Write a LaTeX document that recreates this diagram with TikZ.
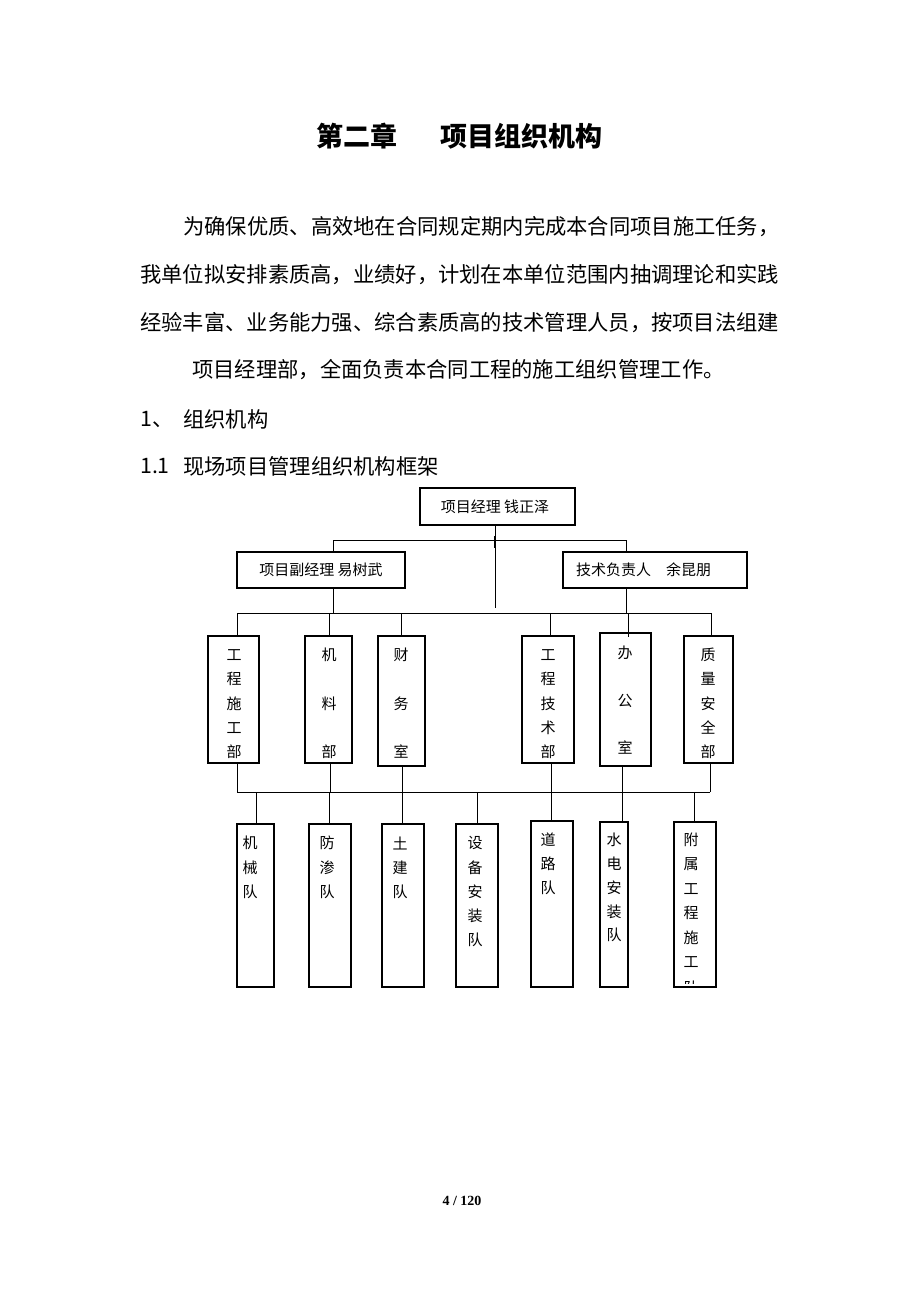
\documentclass[tikz,border=0pt]{standalone}
\usepackage{fontspec}
\newfontfamily\cjk{Noto Sans CJK SC}
\newfontfamily\pagefont{Liberation Serif}
\tikzset{
  bx/.style={draw, line width=1.1pt, inner sep=0pt},
  ln/.style={line width=1pt},
  ch/.style={font=\cjk\fontsize{15}{15}\selectfont, inner sep=0pt},
  lbl/.style={font=\cjk\fontsize{15}{15}\selectfont, inner sep=0pt},
  body/.style={font=\cjk\fontsize{21.3}{21.3}\selectfont, inner sep=0pt, anchor=west},
  ttl/.style={font=\cjk\bfseries\fontsize{27}{27}\selectfont, inner sep=0pt, anchor=west},
}
\newcommand\boxnode[5]{\node[bx, minimum width={#3-#2}, minimum height={#5-#4}] (#1) at ({(#2+#3)/2},{(#4+#5)/2}) {};}
\newcommand\vcol[5]{\foreach \c [count=\i from 0] in {#5} {\node[ch] (#1-\i) at (#2,{#3+#4*\i}) {\c};}}
\begin{document}
\begin{tikzpicture}[x=1pt,y=-1pt]
\useasboundingbox[fill=white] (0,0) rectangle (920,1302);
% title and text
\node[ttl] (t1) at (316,136) {第二章};
\node[ttl] (t2) at (440,136) {项目组织机构};
\node[body] (p1) at (183,227) {为确保优质、高效地在合同规定期内完成本合同项目施工任务，};
\node[body] (p2) at (140,275) {我单位拟安排素质高，业绩好，计划在本单位范围内抽调理论和实践};
\node[body] (p3) at (140,323) {经验丰富、业务能力强、综合素质高的技术管理人员，按项目法组建};
\node[body] (p4) at (192,370) {项目经理部，全面负责本合同工程的施工组织管理工作。};
\node[body] (s1) at (140,419) {1、};
\node[body] (s1b) at (183,419) {组织机构};
\node[body] (s2) at (140,466) {1.1};
\node[body] (s2b) at (183,466) {现场项目管理组织机构框架};
\node[font=\pagefont\bfseries\fontsize{14}{14}\selectfont, inner sep=0pt] (pg) at (462,1201) {4 / 120};
% top level
\boxnode{top}{420}{575}{488}{525}
\node[lbl] (topt) at (495,507) {项目经理\ 钱正泽};
\boxnode{vm}{237}{405}{552}{588}
\node[lbl] (vmt) at (321,570) {项目副经理\ 易树武};
\boxnode{te}{563}{747}{552}{588}
\node[lbl, anchor=west] (tet) at (576,570) {技术负责人\quad 余昆朋};
\coordinate (cend) at (495,608);
\coordinate (tick1) at (495,536);
\coordinate (tick2) at (495,548);
\draw[ln] (cend |- top.south) -- (cend);
\draw[line width=1.8pt] (tick1) -- (tick2);
\coordinate (ubl) at (333,540);
\coordinate (ubr) at (626,540);
\draw[ln] (ubl) -- (ubr);
\draw[ln] (ubl) -- (ubl |- vm.north);
\draw[ln] (ubr) -- (ubr |- te.north);
\coordinate (lbl) at (237,613);
\coordinate (lbr) at (711,613);
\draw[ln] (lbl) -- (lbr);
\coordinate (vmd) at (333,613);
\draw[ln] (vmd |- vm.south) -- (vmd);
\coordinate (ted) at (626,613);
\draw[ln] (ted |- te.south) -- (ted);
% departments
\boxnode{d1}{208}{259}{636}{763}
\boxnode{d2}{305}{352}{636}{763}
\boxnode{d3}{378}{425}{636}{766}
\boxnode{d4}{522}{574}{636}{763}
\boxnode{d5}{600}{651}{633}{766}
\boxnode{d6}{684}{733}{636}{763}
\vcol{d1t}{234}{655}{24.3}{工,程,施,工,部}
\vcol{d2t}{329}{655}{48.5}{机,料,部}
\vcol{d3t}{401}{655}{48.5}{财,务,室}
\vcol{d4t}{548}{655}{24.3}{工,程,技,术,部}
\vcol{d5t}{625}{653}{47.5}{办,公,室}
\vcol{d6t}{708}{655}{24.3}{质,量,安,全,部}
\foreach \x/\n in {237/d1,329/d2,401/d3,550/d4,711/d6} {
  \coordinate (j\n) at (\x,613);
  \draw[ln] (j\n) -- (j\n |- \n.north);
}
\coordinate (jd5) at (628,613);
\coordinate (jd5e) at (628,637);
\draw[ln] (jd5) -- (jd5e);
% lower bus
\coordinate (bbl) at (237,792);
\coordinate (bbr) at (710,792);
\draw[ln] (bbl) -- (bbr);
\foreach \x/\n in {237/d1,330/d2,402/d3,551/d4,622/d5,710/d6} {
  \coordinate (k\n) at (\x,792);
  \draw[ln] (k\n |- \n.south) -- (k\n);
}
% teams
\boxnode{t1}{237}{274}{824}{987}
\boxnode{t2}{309}{351}{824}{987}
\boxnode{t3}{382}{424}{824}{987}
\boxnode{t4}{456}{498}{824}{987}
\boxnode{t5}{531}{573}{821}{987}
\boxnode{t6}{600}{628}{822}{987}
\boxnode{t7}{674}{716}{822}{987}
\vcol{t1t}{250}{843}{24.5}{机,械,队}
\vcol{t2t}{327}{843}{24.5}{防,渗,队}
\vcol{t3t}{400}{843}{24.5}{土,建,队}
\vcol{t4t}{475}{843}{24.3}{设,备,安,装,队}
\vcol{t5t}{548}{840}{24}{道,路,队}
\vcol{t6t}{614}{840}{23.8}{水,电,安,装,队}
\vcol{t7t}{691}{840}{24.4}{附,属,工,程,施,工}
\begin{scope}
  \clip (674,822) rectangle (716,983.5);
  \node[ch] (t7-last) at (691,987.5) {队};
\end{scope}
\foreach \x/\n in {256/t1,329/t2,402/t3,477/t4,551/t5,622/t6,694/t7} {
  \coordinate (m\n) at (\x,792);
  \draw[ln] (m\n) -- (m\n |- \n.north);
}
\end{tikzpicture}
\end{document}
